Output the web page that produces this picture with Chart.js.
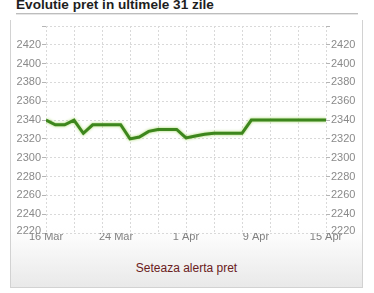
<!DOCTYPE html>
<html>
<head>
<meta charset="utf-8">
<script src="https://cdn.jsdelivr.net/npm/chart.js@4"></script>
<style>
  body { margin: 0; background: #fff; width: 374px; height: 293px; position: relative; overflow: hidden; }
  #title { position: absolute; left: 16px; top: -3px; font: bold 13.6px Arial, "Liberation Sans", sans-serif; line-height: 16px; color: #1e1e1e; white-space: nowrap; }
  #rule { position: absolute; left: 16px; top: 13px; width: 342px; height: 1px; background: #bdbdbd; box-shadow: 0 1px 0 #e6e6e6; }
  #panel { position: absolute; left: 10px; top: 20px; width: 353px; height: 268px; box-sizing: border-box;
           border: 1px solid #d2d2d2; border-top: none;
           background: linear-gradient(to bottom, #fff 0%, #fff 78%, #e9e9e9 100%); }
  #alert { position: absolute; left: 0; width: 100%; top: 241px; text-align: center; font: 12px Arial, "Liberation Sans", sans-serif; color: #6a2020; }
  #wrap { position: absolute; left: 10px; top: 20px; width: 352px; height: 230px; }
</style>
</head>
<body>
<div id="title">Evolutie pret in ultimele 31 zile</div>
<div id="rule"></div>
<div id="panel"><div id="alert">Seteaza alerta pret</div></div>
<div id="wrap"><canvas id="myGraph"></canvas></div>
<script>
// pret zilnic, 16 Mar .. 15 Apr (31 zile)
var prices = [2340, 2335, 2335, 2340, 2326, 2335, 2335, 2335, 2335, 2320,
              2322, 2328, 2330, 2330, 2330, 2321, 2323, 2325, 2326, 2326,
              2326, 2326, 2340, 2340, 2340, 2340, 2340, 2340, 2340, 2340, 2340];
var xLabels = ['16 Mar', '24 Mar', '1 Apr', '9 Apr', '15 Apr'];
var yMin = 2220;
var yMax = 2440;
var yStep = 20;

var points = prices.map(function (p, i) { return { x: i, y: p }; });

var glow = {
    id: 'glow',
    beforeDatasetDraw: function (chart) {
        chart.ctx.save();
        chart.ctx.shadowColor = 'rgba(150,210,80,0.9)';
        chart.ctx.shadowBlur = 3;
    },
    afterDatasetDraw: function (chart) {
        chart.ctx.restore();
    }
};

var narrow = '"Liberation Sans Narrow", "Arial Narrow", Arial, sans-serif';
var gridCol = '#d9d9d9';

// the lowest label sits a little above its line, as in the original
function yFont(c) {
    return { family: narrow, size: 11, lineHeight: c.tick && c.tick.value === yMin ? 0.4 : 1.2 };
}
function yLabel(v) {
    if (v === yMax) return '';
    if (v === yMin) return [String(v), ''];
    return v;
}

function fixWidth(w) {
    return function (s) { s.width = w; s.paddingTop = 0; s.paddingBottom = 0; };
}
function fixHeight(h) {
    return function (s) { s.height = h; s.paddingLeft = 0; s.paddingRight = 0; };
}

var ctx = document.getElementById('myGraph');
var myGraph = new Chart(ctx, {
    type: 'line',
    data: {
        datasets: [{
            data: points,
            borderColor: '#3d861d',
            borderWidth: 3,
            pointRadius: 0,
            tension: 0,
            fill: false,
            xAxisID: 'x',
            yAxisID: 'y'
        }]
    },
    plugins: [glow],
    options: {
        responsive: true,
        maintainAspectRatio: false,
        animation: false,
        layout: { padding: { top: 6, left: 0, right: 0, bottom: 0 } },
        plugins: {
            legend: { display: false },
            tooltip: { enabled: false }
        },
        scales: {
            x: {
                type: 'linear',
                min: 0,
                max: 30,
                position: 'bottom',
                ticks: { display: false, stepSize: 3 },
                grid: { color: gridCol, drawTicks: false },
                border: { display: false, dash: [2, 2] },
                afterFit: fixHeight(0)
            },
            x2: {
                type: 'linear',
                min: 0,
                max: 30,
                position: 'bottom',
                ticks: {
                    stepSize: 7.5,
                    maxRotation: 0,
                    padding: -3,
                    color: '#808080',
                    font: { family: 'Arial, "Liberation Sans", sans-serif', size: 11 },
                    callback: function (v, i) { return xLabels[i]; }
                },
                grid: { display: false, drawTicks: false },
                border: { display: false },
                afterFit: fixHeight(17)
            },
            y: {
                position: 'left',
                min: yMin,
                max: yMax,
                ticks: {
                    stepSize: yStep,
                    padding: 1,
                    color: '#8a8a8a',
                    font: yFont,
                    callback: yLabel
                },
                grid: { color: gridCol, tickColor: '#b5b5b5', tickLength: 4 },
                border: { display: false, dash: [2, 2] },
                afterFit: fixWidth(36)
            },
            y2: {
                position: 'right',
                min: yMin,
                max: yMax,
                ticks: {
                    stepSize: yStep,
                    padding: 1,
                    color: '#8a8a8a',
                    font: yFont,
                    callback: yLabel
                },
                grid: { drawOnChartArea: false, tickColor: '#b5b5b5', tickLength: 4 },
                border: { display: false },
                afterFit: fixWidth(36)
            }
        }
    }
});
</script>
</body>
</html>
